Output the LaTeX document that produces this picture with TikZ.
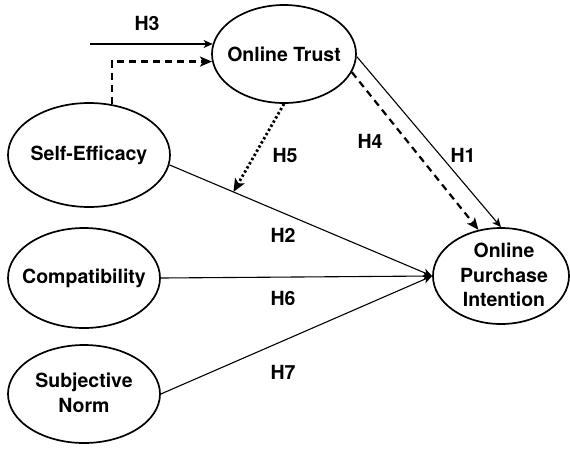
\documentclass[tikz,border=0pt]{standalone}
\usepackage{fontspec}
\setmainfont{TeX Gyre Heros}
\usetikzlibrary{shapes.geometric,arrows.meta}
\begin{document}
\begin{tikzpicture}[x=1pt,y=-1pt,
  ell/.style={draw, ellipse, line width=1.7pt, inner sep=0pt},
  txt/.style={font=\fontsize{19.5}{24.5}\selectfont\bfseries, align=center, inner sep=0pt},
  hlab/.style={font=\fontsize{19.5}{24}\selectfont\bfseries, inner sep=0pt},
  solidarr/.style={line width=1.1pt, -{Stealth[length=9pt,width=8pt,inset=2.5pt]}},
  dasharr/.style={line width=2.2pt, dash pattern=on 7pt off 5pt, -{Stealth[length=12pt,width=10pt,inset=3pt]}},
  dotarr/.style={line width=2.8pt, dash pattern=on 2.4pt off 2.4pt, -{Stealth[length=13pt,width=11pt,inset=3pt]}},
]
\useasboundingbox (0,0) rectangle (570,448);

% ellipses
\node[ell, minimum width=144pt, minimum height=98pt] (ot) at (284,54) {};
\node[ell, minimum width=162pt, minimum height=104pt] (se) at (89,155) {};
\node[ell, minimum width=152pt, minimum height=100pt] (cp) at (84,278) {};
\node[ell, minimum width=152pt, minimum height=98pt] (sn) at (84,394) {};
\node[ell, minimum width=136pt, minimum height=96pt] (opi) at (501,276) {};

% texts
\node[txt] (tot) at (ot) {Online Trust};
\node[txt] (tse) at (se) {Self-Efficacy};
\node[txt] (tcp) at (cp) {Compatibility};
\node[txt] (tsn) at ([yshift=1pt]sn.center) {Subjective\\Norm};
\node[txt] (topi) at ([xshift=3pt,yshift=1pt]opi.center) {Online\\Purchase\\Intention};

% connectors
\coordinate (h3s) at (90,44);
\draw[solidarr] (h3s |- ot.172) -- (ot.172);
\draw[dasharr] (se.66) |- (ot.186);
\draw[solidarr] (se.-7) -- coordinate[pos=0.2436] (hit) (opi.west);
\draw[dotarr] (ot.south) -- (hit);
\draw[solidarr] (cp.east) -- (opi.west);
\draw[solidarr] (sn.east) -- (opi.west);
\draw[solidarr] (ot.-2) -- (opi.north);
\draw[dasharr] (ot.-15) -- (opi.116);

% labels
\node[hlab] (h3) at (147,23) {H3};
\node[hlab] (h5) at (285,155) {H5};
\node[hlab] (h4) at (370,141) {H4};
\node[hlab] (h1) at (463,155) {H1};
\node[hlab] (h2) at (283,235) {H2};
\node[hlab] (h6) at (283,298) {H6};
\node[hlab] (h7) at (283,372) {H7};
\end{tikzpicture}
\end{document}
